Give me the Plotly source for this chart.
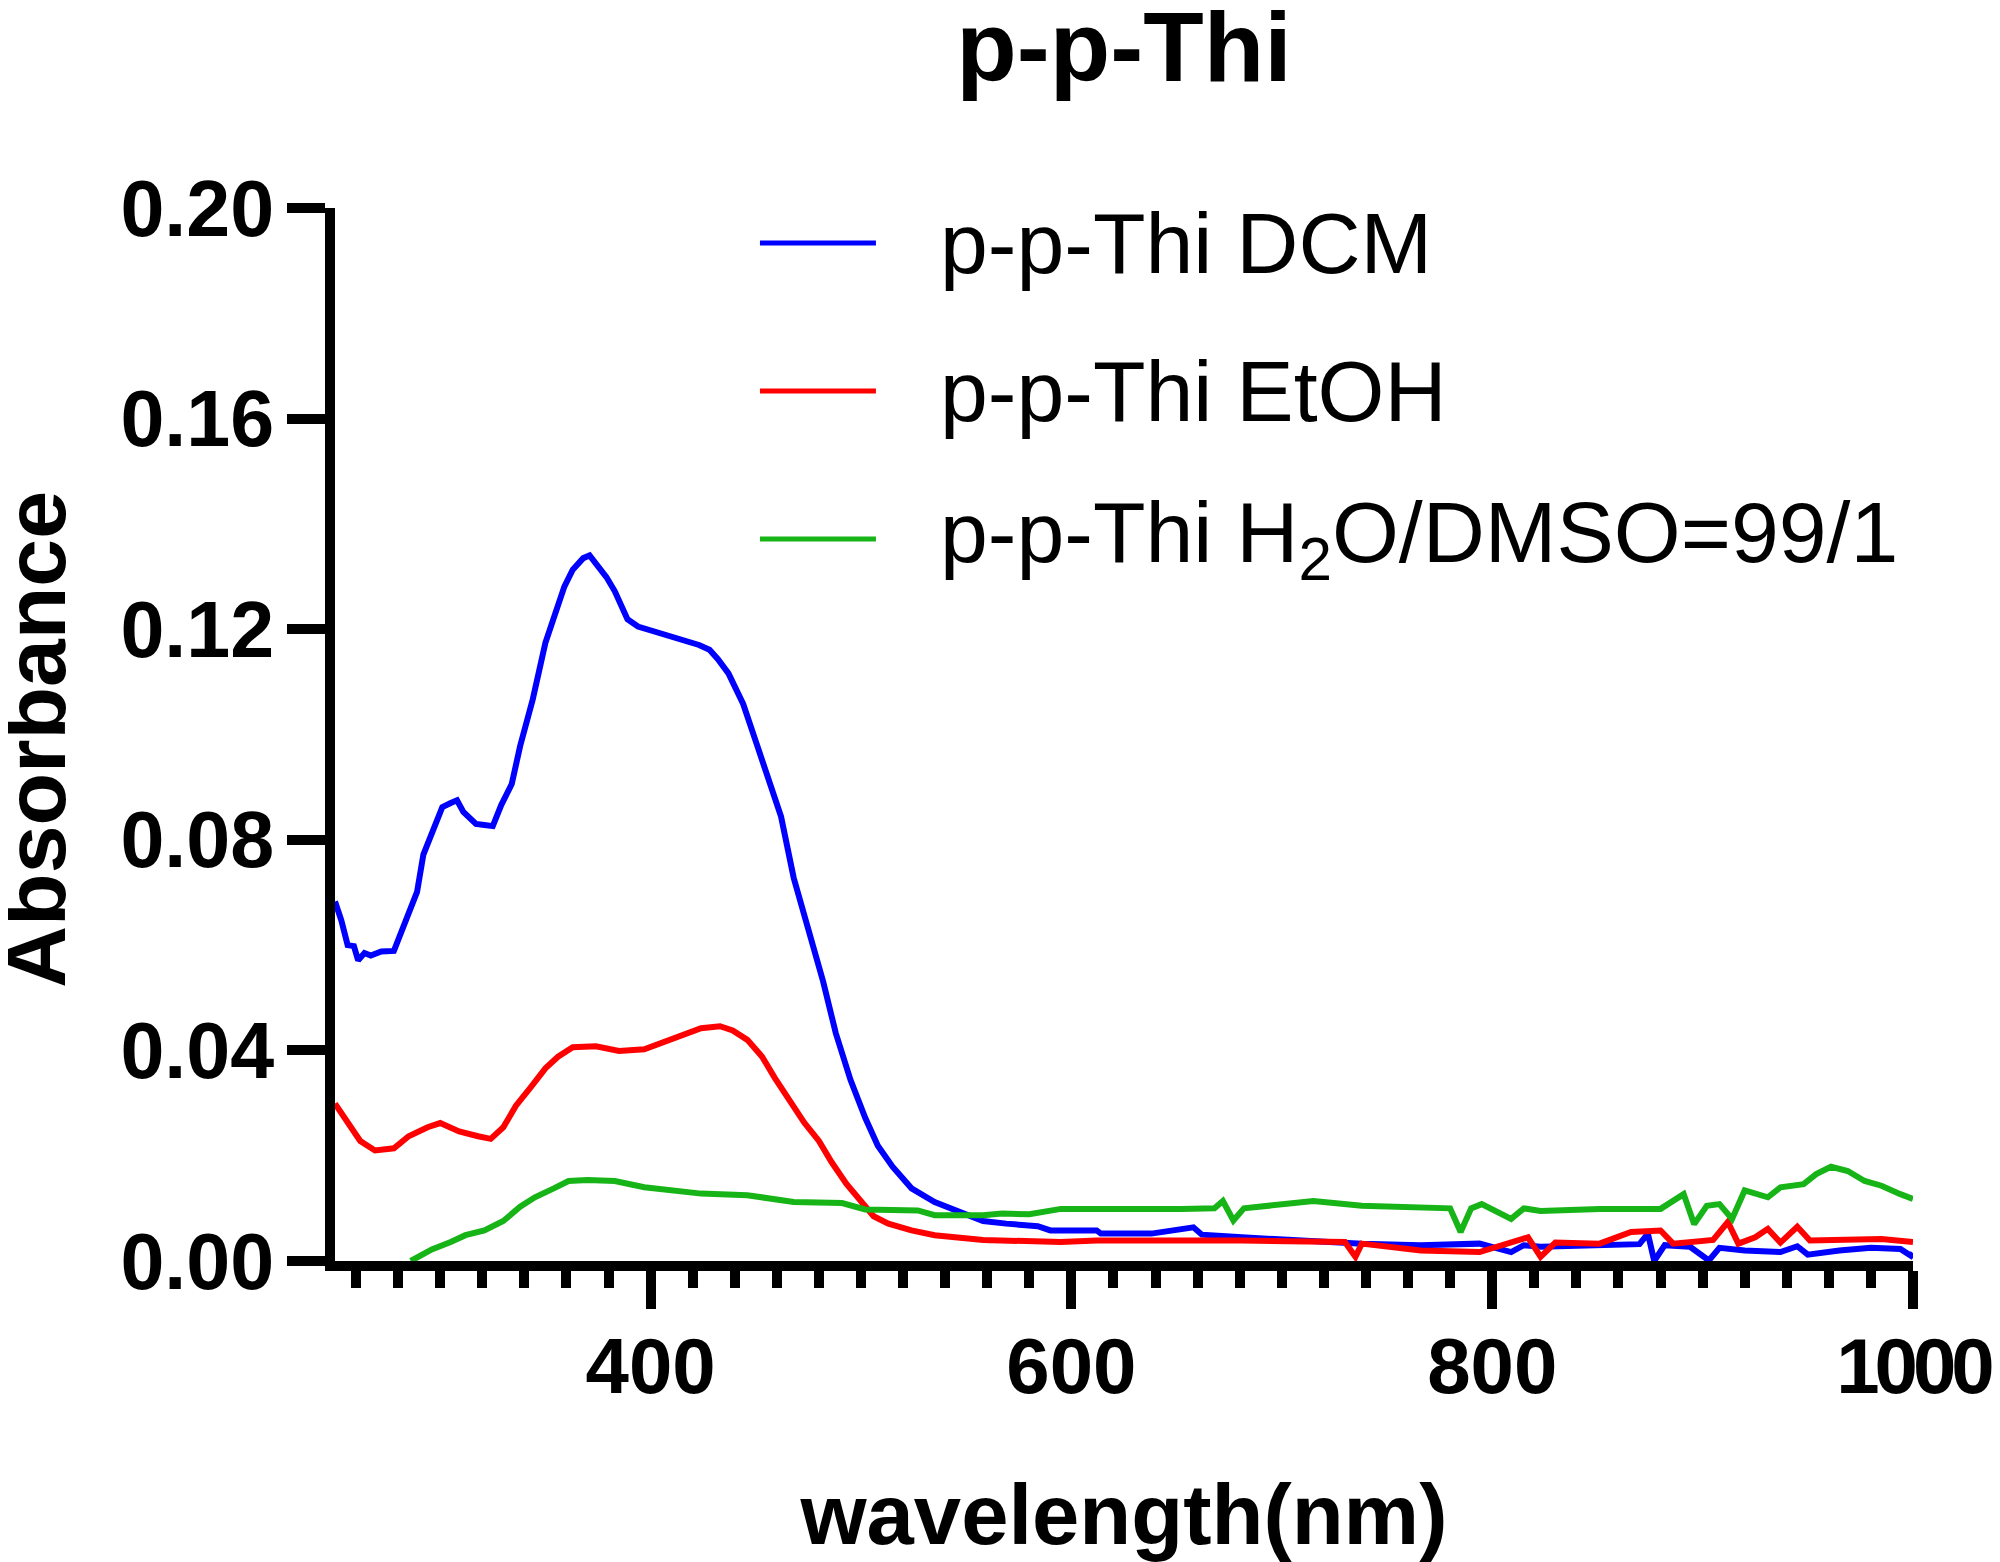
import plotly.graph_objects as go

# spectra (wavelength in nm, absorbance)
dcm_nm = [250, 253, 256, 259, 261, 264, 267, 272, 278, 281, 286, 289, 292, 297, 301, 305,
          308, 311, 314, 317, 321, 325, 329, 334, 338, 344, 350, 354, 359, 363, 368, 371,
          374, 379, 383, 389, 394, 401, 412, 423, 428, 432, 437, 444, 450, 457, 462, 468,
          475, 482, 488, 495, 502, 508, 515, 524, 535, 547, 558, 569, 584, 590, 612, 614,
          638, 658, 662, 681, 709, 738, 766, 794, 809, 815, 823, 851, 870, 874, 877, 882,
          894, 903, 908, 920, 937, 945, 950, 965, 980, 994, 999, 1000]
dcm_abs = [0.0683, 0.0647, 0.0600, 0.0598, 0.0571, 0.0585, 0.0580, 0.0588, 0.0589, 0.0620,
           0.0674, 0.0701, 0.0772, 0.0826, 0.0862, 0.0870, 0.0875, 0.0853, 0.0840, 0.0830,
           0.0828, 0.0826, 0.0866, 0.0906, 0.0978, 0.1067, 0.1174, 0.1223, 0.1281, 0.1313,
           0.1335, 0.1340, 0.1326, 0.1299, 0.1272, 0.1219, 0.1205, 0.1197, 0.1183, 0.1170,
           0.1161, 0.1143, 0.1116, 0.1058, 0.0987, 0.0906, 0.0844, 0.0728, 0.0630, 0.0531,
           0.0433, 0.0344, 0.0272, 0.0219, 0.0179, 0.0138, 0.0112, 0.0094, 0.0076, 0.0071,
           0.0066, 0.0058, 0.0058, 0.0052, 0.0052, 0.0064, 0.0050, 0.0045, 0.0039, 0.0033,
           0.0030, 0.0033, 0.0017, 0.0030, 0.0027, 0.0030, 0.0032, 0.0052, 0.0000, 0.0030,
           0.0027, 0.0001, 0.0025, 0.0020, 0.0017, 0.0028, 0.0012, 0.0020, 0.0025, 0.0023,
           0.0010, 0.0015]

etoh_nm = [250, 256, 262, 269, 278, 285, 294, 300, 309, 318, 324, 330, 336, 343, 350, 356,
           363, 374, 385, 397, 406, 415, 424, 433, 439, 446, 453, 459, 466, 473, 480, 486,
           493, 500, 506, 513, 524, 535, 558, 595, 612, 681, 730, 735, 738, 766, 794, 817,
           823, 830, 851, 866, 880, 886, 905, 912, 917, 925, 931, 937, 945, 951, 970, 985,
           1000]
etoh_abs = [0.0299, 0.0263, 0.0228, 0.0210, 0.0214, 0.0237, 0.0254, 0.0262, 0.0246, 0.0237,
            0.0232, 0.0254, 0.0295, 0.0330, 0.0366, 0.0388, 0.0406, 0.0408, 0.0399, 0.0402,
            0.0415, 0.0429, 0.0442, 0.0446, 0.0438, 0.0420, 0.0388, 0.0348, 0.0304, 0.0263,
            0.0228, 0.0188, 0.0147, 0.0112, 0.0085, 0.0071, 0.0058, 0.0049, 0.0040, 0.0036,
            0.0039, 0.0039, 0.0036, 0.0008, 0.0033, 0.0020, 0.0017, 0.0045, 0.0008, 0.0035,
            0.0033, 0.0055, 0.0058, 0.0033, 0.0040, 0.0074, 0.0033, 0.0045, 0.0061, 0.0035,
            0.0065, 0.0039, 0.0040, 0.0042, 0.0036]

water_nm = [286, 296, 305, 312, 321, 330, 338, 345, 354, 361, 370, 383, 397, 412, 424, 446,
            468, 491, 502, 527, 535, 558, 567, 580, 595, 652, 668, 672, 677, 682, 695, 715,
            738, 766, 780, 785, 790, 795, 809, 815, 823, 851, 880, 891, 896, 902, 908, 914,
            920, 931, 937, 948, 954, 961, 969, 977, 985, 994, 1000]
water_abs = [0.0000, 0.0022, 0.0036, 0.0049, 0.0058, 0.0076, 0.0103, 0.0121, 0.0138, 0.0152,
             0.0154, 0.0152, 0.0140, 0.0134, 0.0128, 0.0125, 0.0112, 0.0110, 0.0098, 0.0096,
             0.0087, 0.0087, 0.0090, 0.0089, 0.0099, 0.0099, 0.0100, 0.0114, 0.0077, 0.0100,
             0.0105, 0.0114, 0.0105, 0.0102, 0.0100, 0.0055, 0.0100, 0.0108, 0.0080, 0.0100,
             0.0095, 0.0099, 0.0099, 0.0127, 0.0070, 0.0105, 0.0108, 0.0080, 0.0134, 0.0121,
             0.0140, 0.0146, 0.0165, 0.0179, 0.0171, 0.0152, 0.0143, 0.0127, 0.0118]

series_names = ["p-p-Thi DCM", "p-p-Thi EtOH", "p-p-Thi H<sub>2</sub>O/DMSO=99/1"]
series_colors = ["#0000FF", "#FF0000", "#16B416"]

x_tickvals = [400, 600, 800, 1000]
# the last label is squeezed in the original so that it stays inside the picture
x_ticktext = ["400", "600", "800", '<span style="letter-spacing:-5px">1000</span>']

FONT = "Liberation Sans"

fig = go.Figure()
for xs, ys, name, color in zip([dcm_nm, etoh_nm, water_nm],
                               [dcm_abs, etoh_abs, water_abs],
                               series_names, series_colors):
    fig.add_trace(go.Scatter(x=xs, y=ys, mode="lines", name=name,
                             line=dict(color=color, width=6), showlegend=False))

# hand-drawn legend (long line samples like the original)
legend_y = [0.9668, 0.8262, 0.6857]
for name, color, ly in zip(series_names, series_colors, legend_y):
    fig.add_shape(type="line", xref="paper", yref="paper",
                  x0=0.2693, x1=0.3428, y0=ly, y1=ly,
                  line=dict(color=color, width=5))
    fig.add_annotation(xref="paper", yref="paper", x=0.3821, y=ly,
                       xanchor="left", yanchor="middle", showarrow=False,
                       text=name, font=dict(family=FONT, size=86, color="black"))

# y title placed by hand: an axis title would be clamped inside the margin
fig.add_annotation(xref="paper", yref="paper", x=-0.1901, y=0.4948,
                   xanchor="center", yanchor="middle", showarrow=False,
                   textangle=-90, text="Absorbance",
                   font=dict(family=FONT, size=86, color="black", weight="bold"))

# page body adds an 8px offset, so the figure is 8px smaller than the window
fig.update_layout(
    width=1992, height=1554,
    margin=dict(l=327, r=87, t=200, b=301),
    plot_bgcolor="white", paper_bgcolor="white",
    title=dict(text="p-p-Thi", x=0.5, xref="paper", xanchor="center",
               y=0.953, yref="container", yanchor="bottom",
               font=dict(family=FONT, size=99, color="black", weight="bold")),
)

fig.update_xaxes(
    range=[250, 1000], tickmode="array", tickvals=x_tickvals, ticktext=x_ticktext,
    showline=True, linewidth=10, linecolor="black",
    ticks="outside", ticklen=38, tickwidth=10, tickcolor="black",
    minor=dict(ticks="outside", dtick=20, tick0=0, ticklen=17,
               tickwidth=10, tickcolor="black"),
    showgrid=False, zeroline=False, automargin=False, ticklabelstandoff=-10,
    ticklabeloverflow="allow",
    tickfont=dict(family=FONT, size=78, color="black", weight="bold"),
    title=dict(text="wavelength(nm)", standoff=80,
               font=dict(family=FONT, size=85, color="black", weight="bold")),
)
fig.update_yaxes(
    range=[0, 0.2], tickmode="linear", tick0=0, dtick=0.04, tickformat=".2f",
    showline=True, linewidth=10, linecolor="black",
    ticks="outside", ticklen=38, tickwidth=10, tickcolor="black",
    showgrid=False, zeroline=False, automargin=False, ticklabelstandoff=-3,
    tickfont=dict(family=FONT, size=79, color="black", weight="bold"),
)

fig.write_html("out.html")
